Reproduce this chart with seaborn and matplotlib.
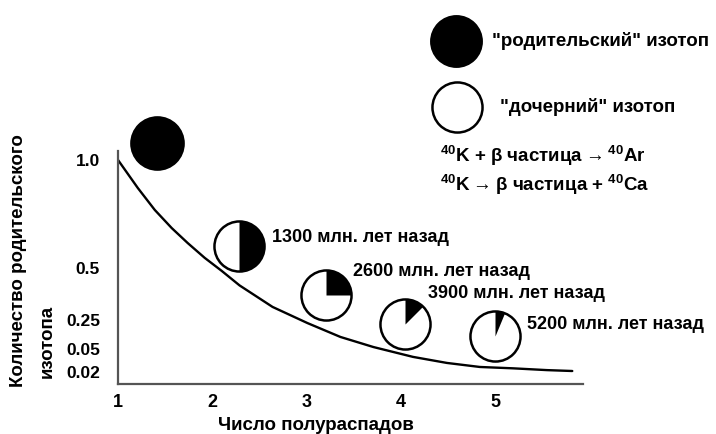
import matplotlib
matplotlib.use("Agg")
import matplotlib.pyplot as plt
import seaborn as sns
from matplotlib.path import Path

# decay curve (x = half-lives, y = parent fraction on drawn scale)
curve_x = [1.00, 1.21, 1.39, 1.57, 1.74, 1.92, 2.10, 2.29, 2.64, 3.01, 3.36, 3.71, 4.13, 4.49, 4.84, 5.19, 5.55, 5.82]
curve_y = [1.000, 0.875, 0.777, 0.696, 0.629, 0.563, 0.505, 0.440, 0.344, 0.272, 0.210, 0.165, 0.121, 0.094, 0.076, 0.070, 0.062, 0.058]

# pie markers: position and parent fraction
pie_x = [1.41, 2.28, 3.21, 4.04, 5.00]
pie_y = [1.076, 0.616, 0.397, 0.268, 0.214]
pie_parent = [1.0, 0.5, 0.25, 0.125, 0.0625]
pie_labels = ["", "1300 млн. лет назад", "2600 млн. лет назад", "3900 млн. лет назад", "5200 млн. лет назад"]

x_ticks = [1, 2, 3, 4, 5]
y_tick_pos = [1.0, 0.518, 0.286, 0.156, 0.054]
y_tick_labels = ["1.0", "0.5", "0.25", "0.05", "0.02"]

sns.set_style("white")
plt.rcParams["font.family"] = ["Liberation Sans", "DejaVu Sans"]
plt.rcParams["font.weight"] = "bold"
plt.rcParams["text.color"] = "black"
plt.rcParams["mathtext.default"] = "regular"

fig = plt.figure(figsize=(7.16, 4.34), dpi=100)
ax = fig.add_axes([118 / 716, 50 / 434, 598 / 716, 384 / 434])

sns.lineplot(x=curve_x, y=curve_y, color="black", linewidth=1.7, sort=False, ax=ax)

for x, y, f in zip(pie_x, pie_y, pie_parent):
    if f >= 1.0:
        sns.scatterplot(x=[x], y=[y], s=1550, marker="o", color="black",
                        edgecolor="black", linewidth=0, zorder=3, ax=ax, legend=False)
        continue
    sns.scatterplot(x=[x], y=[y], s=1300, marker="o", color="white",
                    edgecolor="black", linewidth=1.8, zorder=3, ax=ax, legend=False)
    wedge = Path.wedge(90 - 360 * f, 90)
    sns.scatterplot(x=[x], y=[y], s=1300, marker=wedge, color="black",
                    edgecolor="black", linewidth=0, zorder=4, ax=ax, legend=False)

# labels next to the pies (offsets in points)
offsets = [(0, 0), (24, 6), (19, 17), (17, 22), (23, 8)]
for x, y, lab, off in zip(pie_x, pie_y, pie_labels, offsets):
    if lab:
        ax.annotate(lab, (x, y), xytext=off, textcoords="offset points",
                    fontsize=13, fontweight="bold", va="center", ha="left")

# legend drawn as markers
sns.scatterplot(x=[4.59], y=[1.531], s=1450, marker="o", color="black",
                edgecolor="black", linewidth=0, ax=ax, legend=False, clip_on=False)
sns.scatterplot(x=[4.60], y=[1.237], s=1300, marker="o", color="white",
                edgecolor="black", linewidth=1.8, ax=ax, legend=False, clip_on=False)
fig.text(492 / 716, 1 - 41 / 434, '"родительский" изотоп', fontsize=13.5,
         fontweight="bold", va="center", ha="left")
fig.text(500 / 716, 1 - 107 / 434, '"дочерний" изотоп', fontsize=13.5,
         fontweight="bold", va="center", ha="left")
fig.text(440 / 716, 1 - 156 / 434, r"$^{40}$K + β частица$\rightarrow$$^{40}$Ar", fontsize=13.5,
         fontweight="bold", va="center", ha="left")
fig.text(440 / 716, 1 - 185 / 434, r"$^{40}$K$\rightarrow$β частица + $^{40}$Ca", fontsize=13.5,
         fontweight="bold", va="center", ha="left")

ax.set_xlim(1, 7.345)
ax.set_ylim(0, 1.714)
ax.set_xticks(x_ticks)
ax.set_xticklabels([str(t) for t in x_ticks])
ax.set_yticks(y_tick_pos)
ax.set_yticklabels(y_tick_labels)
ax.tick_params(axis="x", direction="in", length=7, width=1.2, color="#555555",
               labelcolor="black", labelsize=13, pad=7)
ax.tick_params(axis="y", direction="in", length=6, width=1.2, color="#555555",
               labelcolor="black", labelsize=12.5, pad=13)
for lab in ax.get_xticklabels() + ax.get_yticklabels():
    lab.set_fontweight("bold")

for side in ["top", "right"]:
    ax.spines[side].set_visible(False)
ax.spines["left"].set_bounds(0, 1.04)
ax.spines["bottom"].set_bounds(1, 5.93)
for side in ["left", "bottom"]:
    ax.spines[side].set_color("#555555")
    ax.spines[side].set_linewidth(1.6)

fig.text(316 / 716, 1 - 425 / 434, "Число полураспадов", fontsize=13.5,
         fontweight="bold", ha="center", va="center")
fig.text(19 / 716, 1 - 261 / 434, "Количество родительского", fontsize=13.5,
         fontweight="bold", ha="center", va="center", rotation=90)
fig.text(47 / 716, 1 - 341 / 434, "изотопа", fontsize=13.5,
         fontweight="bold", ha="center", va="center", rotation=90)

fig.savefig("out.png", dpi=100)
